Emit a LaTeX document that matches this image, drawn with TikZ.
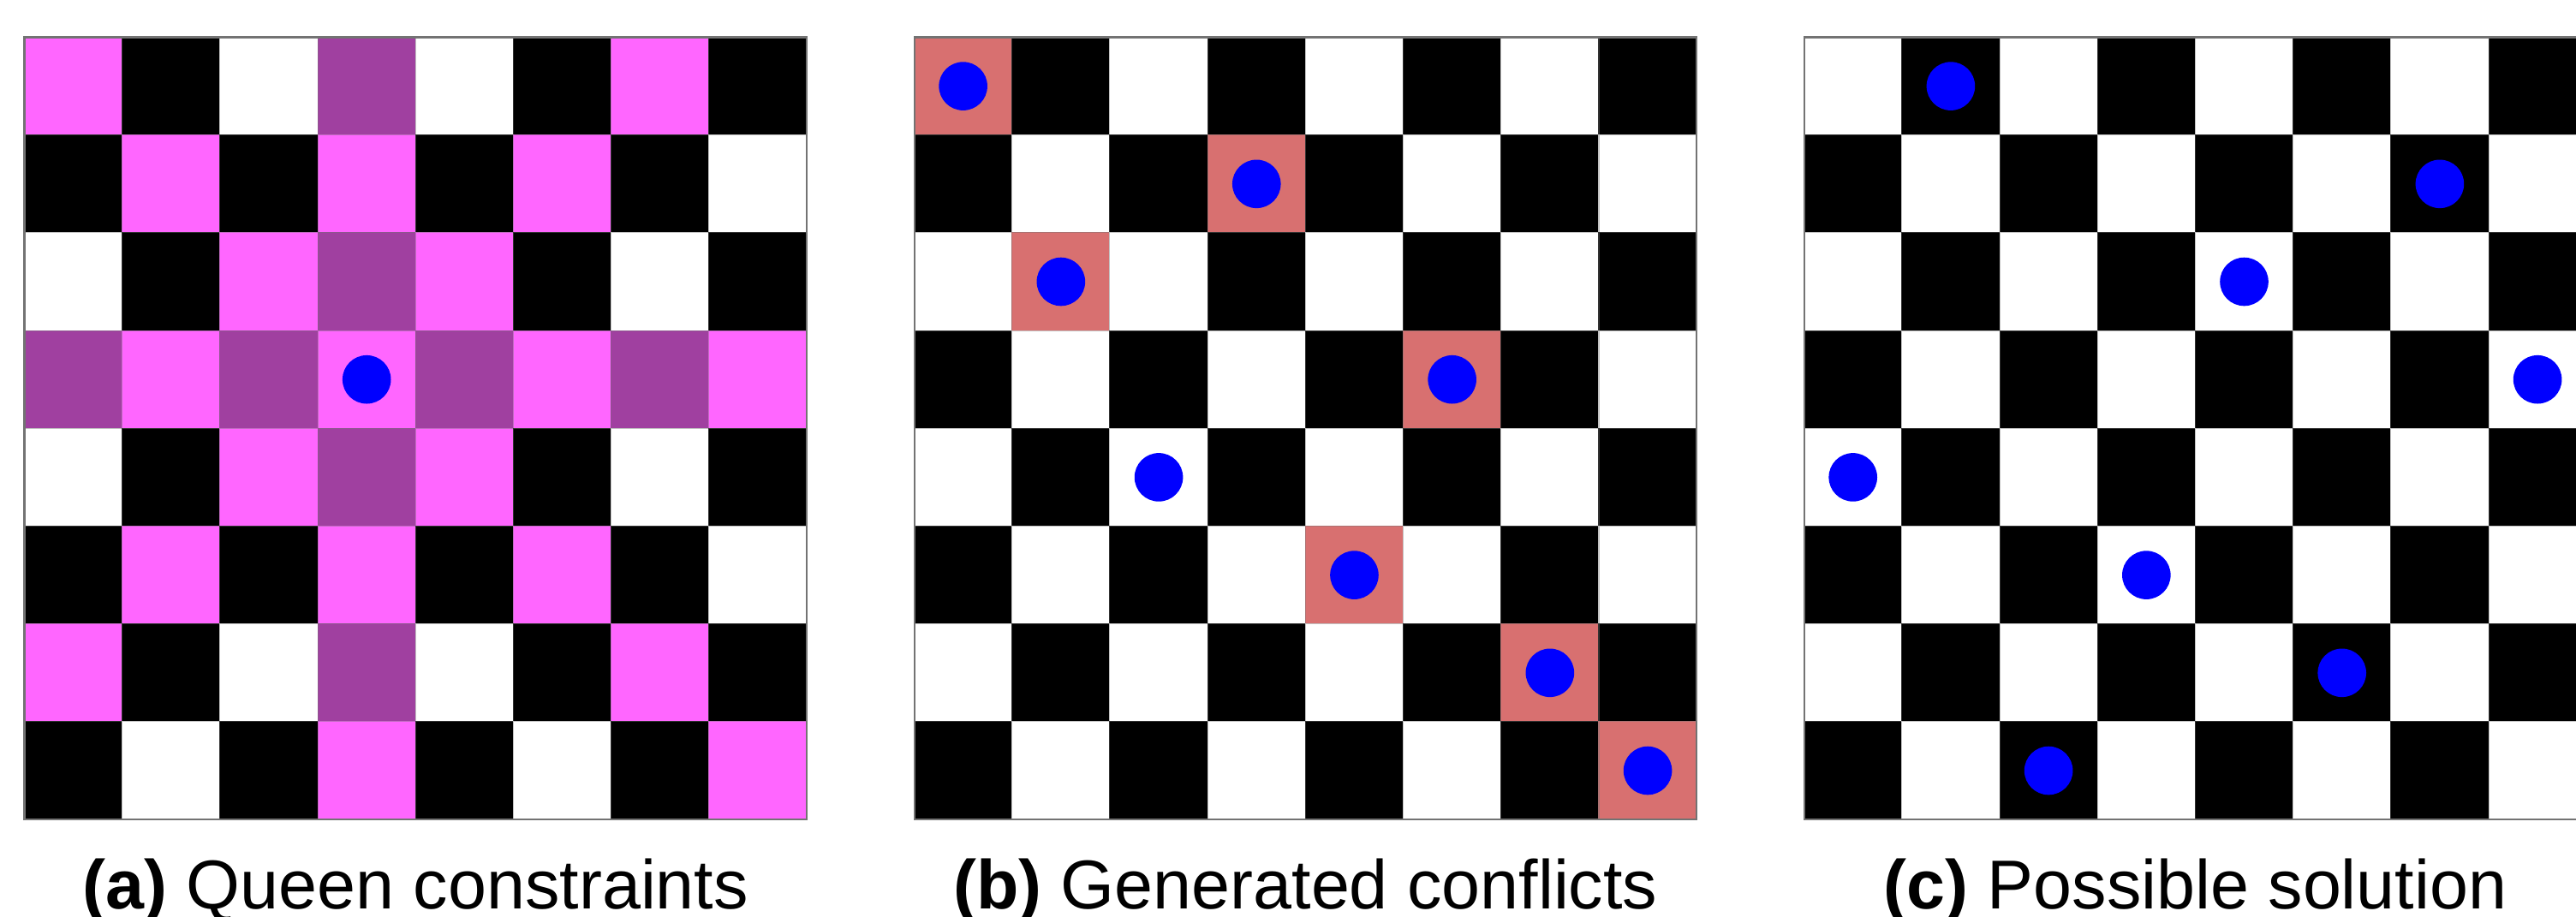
\documentclass[tikz,border=0pt]{standalone}
\usepackage{fontspec}
\setmainfont{Liberation Sans}
\definecolor{qmag}{RGB}{255,102,255}
\definecolor{qpur}{RGB}{160,64,160}
\definecolor{qsal}{RGB}{216,112,112}
\definecolor{qblue}{RGB}{0,0,255}
\tikzset{
  boardframe/.style={draw=black!55, line width=0.6pt, minimum size=9.136cm, inner sep=0pt, outer sep=0pt, anchor=north west},
  queen/.style={circle, fill=qblue, draw=none, minimum size=0.566cm, inner sep=0pt},
  caption/.style={anchor=base, font=\fontsize{23}{27}\selectfont, inner sep=0pt},
  cellline/.style={line width=0.3pt}
}
\newcommand\cellsz{1.142}
\begin{document}
\begin{tikzpicture}
\useasboundingbox (0,0) rectangle (30.08,-10.70);
\clip (0,0) rectangle (30.08,-10.70);
% three boards
\foreach \b/\nm in {0/boarda,1/boardb,2/boardc} {
  \pgfmathsetmacro{\xo}{0.285+\b*10.3905}
  \foreach \r in {0,...,7} {
    \foreach \c in {0,...,7} {
      \pgfmathtruncatemacro{\odd}{mod(\r+\c,2)}
      \pgfmathtruncatemacro{\att}{(\b==0)&&((\r==3)||(\c==3)||(abs(\r-3)==abs(\c-3)))}
      \pgfmathtruncatemacro{\sal}{(\b==1)&&((\r==0&&\c==0)||(\r==1&&\c==3)||(\r==2&&\c==1)||(\r==3&&\c==5)||(\r==5&&\c==4)||(\r==6&&\c==6)||(\r==7&&\c==7))}
      \ifnum\att=1
        \ifnum\odd=1 \def\cc{qpur}\else\def\cc{qmag}\fi
      \else
        \ifnum\sal=1 \def\cc{qsal}\else
          \ifnum\odd=1 \def\cc{black}\else\def\cc{white}\fi
        \fi
      \fi
      \filldraw[cellline, fill=\cc, draw=\cc!70!black!80!white]
        ({\xo+\c*\cellsz},{-0.435-\r*\cellsz}) rectangle ({\xo+(\c+1)*\cellsz},{-0.435-(\r+1)*\cellsz});
    }
  }
  \node[boardframe] (\nm) at (\xo,-0.435) {};
}
% queens: board a
\node[queen] (qa) at ({0.285+3.5*\cellsz},{-0.435-3.5*\cellsz}) {};
% queens: board b
\foreach \r/\c in {0/0,1/3,2/1,3/5,4/2,5/4,6/6,7/7}
  \node[queen] (qb\r) at ({10.6755+(\c+0.5)*\cellsz},{-0.435-(\r+0.5)*\cellsz}) {};
% queens: board c
\foreach \r/\c in {0/1,1/6,2/4,3/7,4/0,5/3,6/5,7/2}
  \node[queen] (qc\r) at ({21.066+(\c+0.5)*\cellsz},{-0.435-(\r+0.5)*\cellsz}) {};
% captions
\node[caption] (capa) at (boarda.south |- 0,-10.61) {\textbf{(a)} Queen constraints};
\node[caption] (capb) at (boardb.south |- 0,-10.61) {\textbf{(b)} Generated conflicts};
\node[caption] (capc) at (boardc.south |- 0,-10.61) {\textbf{(c)} Possible solution};
\end{tikzpicture}
\end{document}
